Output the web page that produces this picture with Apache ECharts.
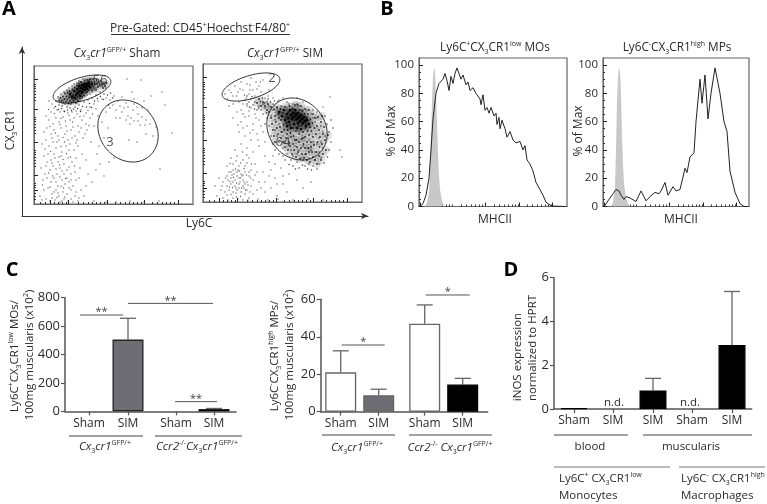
<!DOCTYPE html>
<html><head><meta charset="utf-8">
<style>html,body{margin:0;padding:0;background:#fff}#c{width:767px;height:504px}</style>
<script src="https://cdn.jsdelivr.net/npm/echarts@6/dist/echarts.min.js"></script>
</head><body><div id="c"></div>
<script>
// ---------- Panel A: flow cytometry events (Ly6C channel, CX3CR1 channel) ----------
const shamCore=[[36,110],[38,107],[40,113],[42,109],[43,115],[44,111],[45,118],[46,113],[47,116],[48,112],[48,119],[49,115],[50,118],[51,114],[51,120],[52,117],[53,115],[53,120],[54,118],[55,121],[56,117],[41,106],[46,108],[58,120]];
const shamDense=[[25,103.5],[26.5,106],[27.5,103],[29,107.5],[29.5,101.5],[30.5,105],[31,110.5],[32,102.5],[32.5,107.5],[33.5,104.5],[33.5,111.5],[34.5,100.5],[35,106.5],[35.5,113],[36,103],[36.5,108.5],[37,111],[37.5,101.5],[38,105.5],[38.5,114.5],[39,109],[39.5,103.5],[40,107],[40.5,116.5],[41,112],[41.5,101.5],[42,105],[42.5,110],[43,114],[43,118.5],[43.5,107],[44,103],[44.5,112],[45,116],[45,120.5],[45.5,109],[46,105.5],[46.5,113],[47,118],[47,122],[47.5,110.5],[48,107.5],[48.5,114],[49,120],[49,111],[49.5,116.5],[50,108.5],[50.5,123.5],[51,114],[51.5,119],[52,111],[52.5,116],[53,121],[53.5,124],[53.5,112],[54,118],[55,114],[55,122.5],[55.5,119],[56,125],[57,116],[57.5,122],[58,113.5],[59,118],[59,125],[60,116],[60.5,122],[61,119.5],[62,114],[62.5,124],[63,120],[64,117],[65,121.5],[66,118.5],[67,123],[68,120],[69,116],[70,120],[71,118],[72.5,121]];
const shamHalo=[[22,103],[24,107],[26,102],[27,110],[29,104],[30,112],[31,100],[33,114],[34,101],[35,116],[37,100],[38,118],[39,102],[40,120],[42,101],[43,121],[44,104],[45,123],[46,103],[47,122],[48,106],[49,125],[51,108],[52,125],[53,109],[55,124],[56,110],[57,125],[58,112],[60,114],[60,124],[62,116],[63,122],[64,118],[66,120],[68,118],[70,122],[72,116],[25,99],[28,98],[33,97],[36,96],[41,97],[45,99],[50,102],[54,104],[58,106],[62,109],[66,112],[70,110],[21.5,97.5],[24.5,94.5],[27.5,95.5],[30.5,92.5],[33.5,94],[37.5,93.5],[39.5,95],[43.5,95.5],[46.5,92.5],[48.5,97.5],[52.5,97],[55.5,100.5],[57.5,96.5],[60.5,103],[63.5,105.5],[66.5,107.5],[69.5,104.5],[73.5,109],[76.5,111],[78.5,106],[74.5,99]];
const shamSparse=[[15,103],[18,100],[20,96],[17,92],[23,94],[26,92],[30,93],[34,91],[38,92],[43,90],[47,94],[52,91],[56,97],[60,100],[64,103],[68,105],[72,106],[76,104],[80,108],[84,103],[88,107],[92,101],[76,96],[82,94],[88,92],[94,88],[99,94],[104,90],[108,87],[112,84],[100,83],[96,80],[106,79],[92,84],[86,86],[116,80],[122,77],[131,99],[138,71],[128,112],[107,124],[117,108],[93,125],[98,112],[110,103],[12,88],[15,84],[19,80],[22,86],[25,82],[29,87],[32,78],[36,84],[40,86],[44,78],[48,84],[52,80],[56,86],[60,78],[64,88],[68,82],[72,92],[74,76],[10,72],[13,76],[17,70],[20,74],[24,68],[27,76],[31,70],[34,64],[37,74],[41,68],[45,72],[49,66],[53,74],[57,62],[8,60],[12,64],[15,58],[19,62],[22,56],[25,64],[28,52],[32,58],[36,60],[40,54],[44,58],[48,50],[52,44],[63,50],[66,40],[70,66],[10,48],[14,50],[17,44],[21,46],[24,42],[27,48],[30,40],[34,46],[38,42],[42,46],[46,36],[7,36],[12,38],[16,34],[19,38],[23,30],[26,36],[30,30],[33,34],[37,30],[41,32],[45,26],[54,30],[58,22],[62,34],[9,24],[13,26],[17,22],[20,26],[24,18],[28,24],[31,20],[35,22],[39,18],[42,24],[47,14],[52,18],[10,14],[14,16],[18,10],[22,14],[25,8],[29,12],[33,10],[37,14],[41,8],[45,6],[50,8],[6,8],[12,5],[16,3],[21,4],[26,2],[30,5],[34,3],[39,2],[44,3],[60,3],[72,2],[82,2],[96,3],[110,2],[125,3],[70,28],[75,42],[80,46],[65,58],[95,64],[103,62],[112,70],[119,68],[126,35],[108,96],[114,94],[100,100],[90,96],[14.5,94.5],[20.5,90.5],[27,85.5],[31.5,83],[35,88.5],[38.5,82],[42,93],[46,87.5],[50,88],[54,93.5],[58.5,90],[62,95],[16,77.5],[21.5,71],[26,79.5],[29,66.5],[33,73],[39,77],[43,64],[47,76],[51,70],[55,78.5],[18,66],[23,62],[27,57.5],[30.5,62],[35,54],[38,66],[42,61],[11,55],[16.5,52.5],[20,50],[25,47],[29,44.5],[32.5,50.5],[36.5,47],[40.5,38],[13,42],[18,41],[22,35],[25.5,39],[28,33],[31.5,25.5],[35,37],[14.5,31],[11,30],[18.5,28],[22,22],[26,27],[29.5,16],[33,26],[37,24],[16,17],[20,12],[24,11],[27,17.5],[31,7],[35,16],[8.5,19],[8,4],[18,6],[23,6.5],[28,3],[37,5],[42,12],[100,105],[103,97],[94,97],[97,86],[86,98],[82,86],[79,99],[104,83],[111,79]];
const simCore=[[76,90],[79,86],[81,92],[82,82],[84,88],[85,84],[86,80],[87,92],[88,87],[89,83],[90,89],[91,85],[91,78],[92,92],[93,87],[94,83],[95,89],[95,79],[96,85],[97,81],[98,87],[99,83],[100,79],[101,85],[102,81],[103,76],[104,82],[106,78],[84,76],[88,74],[94,74],[98,73]];
const simDense=[[71,92.5],[74,95],[75.5,88],[77.5,93],[78,82],[80,89],[80.5,77],[82,95],[83,85],[83.5,79],[84.5,72],[85.5,90],[86.5,96],[87,77],[87.5,69],[88.5,84],[89.5,93],[90,74],[90.5,66],[91.5,82],[92.5,89],[93,71],[93.5,62],[94.5,97],[95.5,76],[96,68],[96.5,92],[97.5,86],[98.5,63],[99,77],[99.5,91],[100,70],[100.5,58],[101.5,88],[102,65],[102.5,74],[103.5,84],[104,60],[104.5,71],[105,88],[105.5,54],[106,67],[107,75],[107.5,83],[108,60],[108.5,71],[109,50],[109.5,79],[110,65],[111,57],[111.5,74],[112,84],[113,68],[113.5,50],[114,76],[114.5,60],[116,72],[116.5,55],[117,65],[118,80],[119,58],[120,68],[121,75],[122,62],[123,52],[125,67],[72,86],[73,80],[74,74],[75,68],[76,84],[77,75],[78,64],[79,70],[80,60],[81,72],[82,55],[83,64],[84,68],[85,52],[86,60],[87,56],[88,65],[89,48],[90,58],[91,52],[92,62],[93,45],[94,55],[95,50],[96,60],[97,43],[98,54],[99,48],[100,64],[101,44],[102,54],[103,48],[104,42],[106,50],[107,40],[108,55],[110,45],[112,42],[114,38],[116,46],[118,42],[120,48],[68,84],[69,78],[66,90],[64,92],[62,96],[65,98],[68,95],[60,100],[58,96],[56,103],[54,99],[70,72],[71,66],[72,60],[110,88],[106,92],[102,93],[98,96],[92,97],[115,85],[119,86]];
const simHalo=[[60,98],[62,94],[64,100],[66,96],[68,86],[70,98],[72,82],[74,94],[76,78],[72,72],[74,66],[76,60],[78,70],[78,96],[80,66],[80,54],[82,60],[84,48],[84,100],[86,58],[86,98],[88,52],[90,46],[90,98],[92,56],[94,48],[94,98],[96,52],[96,96],[98,44],[98,92],[100,56],[100,92],[102,48],[104,54],[104,92],[106,44],[106,62],[108,52],[108,88],[110,60],[110,84],[112,50],[112,80],[114,58],[114,84],[116,50],[116,64],[118,76],[118,60],[120,70],[120,54],[122,66],[124,78],[126,70],[128,60],[128,82],[82,42],[88,42],[94,40],[100,42],[106,38],[112,42],[118,44],[70,58],[68,66],[72,52],[76,48],[80,46],[66,76],[64,84],[58,92],[56,96],[52,100],[48,103],[50,97],[46,100],[44,106],[42,102],[54,92],[60,88],[62,78],[110,92],[114,90],[122,86],[130,74],[126,52],[96,34],[102,36],[110,36],[116,38],[90,36],[55.5,94],[57.5,100.5],[59.5,104],[61.5,99],[63.5,89],[65,103],[67.5,100],[49,105.5],[46.5,95],[51.5,93],[44,98],[71.5,101],[75,100.5],[86,37.5],[92.5,33],[99.5,37],[104.5,33],[108.5,32],[114,33],[121,39],[124.5,45]];
const simSparse=[[22,108],[26,112],[30,106],[32,116],[35,110],[38,120],[40,112],[44,118],[46,108],[48,124],[50,112],[53,120],[56,116],[58,110],[60,122],[62,104],[66,112],[36,100],[40,98],[44,96],[48,94],[30,98],[26,96],[52,88],[46,86],[40,88],[34,90],[56,82],[50,78],[44,76],[38,80],[30,84],[60,70],[54,68],[48,62],[42,66],[36,70],[62,60],[56,56],[50,50],[44,54],[38,58],[62,46],[66,40],[72,38],[78,34],[60,30],[66,26],[72,24],[80,26],[86,28],[94,22],[100,14],[108,20],[68,14],[62,10],[74,6],[84,10],[28,44],[34,46],[40,42],[46,44],[52,38],[24,36],[30,38],[36,36],[42,36],[48,32],[54,30],[26,30],[30,32],[34,30],[38,28],[42,30],[46,26],[50,22],[56,20],[24,26],[28,24],[32,22],[36,24],[40,22],[44,20],[48,16],[54,12],[20,20],[24,16],[28,18],[32,16],[36,18],[40,16],[44,12],[50,8],[16,24],[12,16],[18,12],[22,10],[26,12],[30,10],[34,12],[38,10],[42,8],[46,4],[14,6],[20,4],[25,2],[30,4],[35,3],[40,2],[45,2],[55,3],[65,2],[75,3],[90,2],[105,3],[120,2],[34,26],[37,20],[31,28],[39,26],[33,14],[41,14],[28,30],[35,32],[36,14],[30,20],[42,18],[25,22],[46,30],[137,52],[139,45],[120,95],[127,105],[70,104],[76,102],[80,104],[65,106],[70,92],[94,104],[100,100],[52,106],[47,112],[24.5,103],[28,109.5],[33.5,106],[37,113],[41.5,107],[43.5,104],[47,117],[51,104],[54,113],[57.5,120],[38,92],[42,85],[46,91],[53,84],[50,72],[47,69],[40,74],[35,77],[55,62],[58,76],[44,47],[39.5,50],[32,52],[27,38.5],[33,41],[37.5,39],[41,33.5],[44,39],[48.5,38],[29,27],[32.5,33],[36.5,31],[40,27],[43.5,27],[47.5,24],[52,27],[27,20.5],[30.5,24.5],[33.5,19],[37.5,24],[41,20],[45,17],[26.5,15],[29.5,14.5],[33,9],[38.5,14],[42.5,12],[47,10],[22.5,24],[19,16],[24,7],[28,7.5],[33.5,5],[37.5,5.5],[62,20],[58,14],[68,32],[74,18],[70,46],[80,18]];
const gates=[[48,115,30,11.5,17],[94,73,33,28,-50]];
const gateLabelsA=[["56",66,124],["3",76,62]];
const gateLabelsB=[["2",69,124],["64",80,60]];
// ---------- Panel B: histograms (MHCII channel, % of Max) ----------
const isoA=[[6,0],[8,3],[10,10],[11,25],[12,50],[13,75],[14,92],[15,98],[16,96],[17,80],[18,60],[19,38],[20,22],[21,12],[23,4],[25,1],[27,0]];
const moA=[[1,0],[4,2],[7,8],[10,20],[12,40],[14,62],[15,68],[17,80],[20,87],[22,86],[24,90],[26,94],[28,89],[30,82],[32,92],[34,87],[36,94],[38,98],[40,99],[42,90],[44,93],[47,86],[49,88],[51,82],[54,84],[57,80],[61,76],[62,72],[64,79],[66,68],[68,70],[70,66],[72,70],[75,64],[77,66],[78,58],[80,63],[81,55],[83,61],[86,55],[88,49],[91,53],[94,47],[97,45],[101,46],[104,40],[106,43],[108,33],[111,30],[114,25],[117,17],[121,12],[124,8],[127,3],[131,1],[134,0.3],[147,0]];
const isoB=[[8,0],[10,3],[12,14],[13,40],[14,75],[15,92],[16,98],[17,96],[18,80],[19,50],[20,30],[21,16],[23,6],[25,2],[28,0]];
const mpB=[[1,0],[7,6],[10,9],[13,12],[16,11],[18,8],[21,5],[23,7],[27,6],[33,3.5],[38,11],[43,4],[47,7],[52,10],[56,9],[58,11],[62,17],[65,8],[70,14],[73,11],[77,12],[82,27],[84,24],[87,35],[91,38],[93,60],[97,90],[99,73],[102,93],[105,62],[108,80],[112,98],[114,99],[117,80],[121,60],[124,53],[127,25],[132,10],[137,2],[141,0],[145,0]];
// ---------- Panels C and D: bars ----------
const c1Labels=["Sham","SIM","Sham","SIM"];
const c1Means=[0,505,0,15];
const c1Upper=[0,655,0,20];
const c2Labels=["Sham","SIM","Sham","SIM"];
const c2Means=[21,8.8,47,14.5];
const c2Upper=[32.5,12,57,17.8];
const dLabels=["Sham","SIM","SIM","Sham","SIM"];
const dMeans=[0.04,0,0.85,0,2.93];
const dUpper=[0.04,0,1.4,0,5.37];
// slots on the bar panels' x scale
const c1Slots=[24,63,111,149];
const c2Slots=[20,58,104,142];
const dSlots=[20,59,99,138,178];
const c1Sig=[[15,58,678,2],[63,148,760,2],[110,152,68,2]];
const c2Sig=[[21,64,35.6,1],[105,149,62.3,1]];

const FONT='"Open Sans","Noto Sans",sans-serif', INK='#2a2a2a', AX='#555';
function rich(size,it){const b={fontFamily:FONT,fontStyle:it?'italic':'normal',fill:INK};
  return {sup:{...b,fontSize:Math.round(size*0.62),verticalAlign:'top'},sub:{...b,fontSize:Math.round(size*0.62),verticalAlign:'bottom'},n:{...b,fontSize:size,lineHeight:size+3},i:{...b,fontStyle:'italic',fontSize:size,lineHeight:size+3}};}
function T(text,x,y,size,o){o=o||{};return {type:'text',x,y,rotation:o.rot||0,silent:true,style:{text,fontFamily:FONT,fontSize:size,fontWeight:o.bold?'bold':'normal',fontStyle:o.it?'italic':'normal',fill:o.fill||INK,align:o.align||'center',verticalAlign:'middle',rich:rich(size,o.it)}};}
function L(x1,y1,x2,y2,c,w){return {type:'line',silent:true,shape:{x1,y1,x2,y2},style:{stroke:c||'#444',lineWidth:w||1}};}
const R=Math.PI/2;
const graphics=[
 T('A',9,9,20,{bold:true,fill:'#000'}),T('B',387,9,20,{bold:true,fill:'#000'}),T('C',12,270,20,{bold:true,fill:'#000'}),T('D',511,270,20,{bold:true,fill:'#000'}),
 T('{n|Pre-Gated: CD45}{sup|+}{n|Hoechst}{sup|-}{n|F4/80}{sup|+}',200,29,12),L(111,34.5,290,34.5,'#333',1),
 T('{i|Cx}{sub|3}{i|cr1}{sup|GFP/+}{n| Sham}',117,54,11.8),T('{i|Cx}{sub|3}{i|cr1}{sup|GFP/+}{n| SIM}',285,54,11.8),
 T('{n|CX}{sub|3}{n|CR1}',11,130,12,{rot:R}),T('Ly6C',199,224,12),
 T('{n|Ly6C}{sup|+}{n|CX}{sub|3}{n|CR1}{sup|low}{n| MOs}',495,48,11.8),T('{n|Ly6C}{sup|-}{n|CX}{sub|3}{n|CR1}{sup|high}{n| MPs}',677,48,11.8),
 T('MHCII',495,220,12),T('MHCII',681,220,12),T('% of Max',392,131,12,{rot:R}),T('% of Max',579,131,12,{rot:R}),
 T('{n|Ly6C}{sup|+}{n|CX}{sub|3}{n|CR1}{sup|low}{n| MOs/}',15,356,11.5,{rot:R}),T('{n|100mg muscularis (x10}{sup|2}{n|)}',30,355,11.5,{rot:R}),
 L(69,436,143,436),L(155,436,242,436),T('{i|Cx}{sub|3}{i|cr1}{sup|GFP/+}',105,447,11.5),T('{i|Ccr2}{sup|-/-}{i|Cx}{sub|3}{i|cr1}{sup|GFP/+}',197,447,11.5),
 T('{n|Ly6C}{sup|-}{n|CX}{sub|3}{n|CR1}{sup|high}{n| MPs/}',275,356,11.5,{rot:R}),T('{n|100mg muscularis (x10}{sup|2}{n|)}',290,355,11.5,{rot:R}),
 L(322,435,395,435),L(409,435,492,435),T('{i|Cx}{sub|3}{i|cr1}{sup|GFP/+}',357,448,11.5),T('{i|Ccr2}{sup|-/-}{i| Cx}{sub|3}{i|cr1}{sup|GFP/+}',450,448,11.5),
 T('iNOS expression',518,357,11.5,{rot:R}),T('normalized to HPRT',533,348,11.5,{rot:R}),
 T('n.d.',614,403,11.5),T('n.d.',690,403,11.5),
 L(554,435,628,435),L(643,435,752,435),T('blood',590,447,11.5),T('muscularis',691,447,11.5),
 L(554,467,670,467,'#777'),L(679,467,765,467,'#777'),
 T('{n|Ly6C}{sup|+}{n| CX}{sub|3}{n|CR1}{sup|low}',559,479,11.5,{align:'left'}),T('Monocytes',559,496,11.5,{align:'left'}),
 T('{n|Ly6C}{sup|-}{n| CX}{sub|3}{n|CR1}{sup|high}',681,479,11.5,{align:'left'}),T('Macrophages',681,496,11.5,{align:'left'})
];

// --- axes builders ---
const grids=[],xAxes=[],yAxes=[],series=[];
function addGrid(l,t,w,h,box){grids.push({left:l,top:t,width:w,height:h,show:!!box,borderColor:'#666',borderWidth:box?1.2:0,backgroundColor:'transparent',containLabel:false});return grids.length-1;}
function blankAxis(g,min,max,extra){return Object.assign({type:'value',gridIndex:g,min,max,splitLine:{show:false},axisLine:{show:false},axisTick:{show:false},axisLabel:{show:false}},extra||{});}
const frameLine={show:true,onZero:false,lineStyle:{color:'#666',width:1}};
function flowAxes(g,xMaj,xMin,yMaj,yMin,xMax,yMax,yLabels){
  const xi=xAxes.length, yi=yAxes.length;
  xAxes.push(blankAxis(g,0,xMax,{position:'bottom',axisLine:frameLine,axisTick:{show:true,inside:true,length:2,customValues:xMin,lineStyle:{color:'#333',width:1}}}));
  xAxes.push(blankAxis(g,0,xMax,{position:'bottom',axisLine:frameLine,axisTick:{show:true,inside:true,length:4,customValues:xMaj,lineStyle:{color:'#222',width:1}}}));
  yAxes.push(blankAxis(g,0,yMax,{position:'left',axisLine:frameLine,axisTick:{show:true,inside:true,length:2,customValues:yMin,lineStyle:{color:'#333',width:1}}}));
  yAxes.push(blankAxis(g,0,yMax,{position:'left',axisLine:frameLine,axisTick:{show:true,inside:true,length:4,customValues:yMaj,lineStyle:{color:'#222',width:1}},
    axisLabel:yLabels?{show:true,customValues:yLabels,margin:5,fontFamily:FONT,fontSize:11.5,color:INK}:{show:false}}));
  return [xi,yi];
}
function decades(starts,pat){const o=[];starts.forEach(s=>pat.forEach(p=>o.push(s+p)));return o;}
const pat=[5,8,11,14,17,19,21];
function scatter(x,y,data,size,color,op){series.push({type:'scatter',xAxisIndex:x,yAxisIndex:y,data,symbolSize:size,silent:true,animation:false,large:false,itemStyle:{color,opacity:op,borderWidth:0}});}
function ellipseSeries(x,y,data){series.push({type:'custom',xAxisIndex:x,yAxisIndex:y,silent:true,animation:false,data,renderItem(p,api){
  const cx=api.value(0),cy=api.value(1),rx=api.value(2),ry=api.value(3),a=api.value(4)*Math.PI/180,pts=[];
  for(let i=0;i<72;i++){const t=i/72*2*Math.PI,ex=rx*Math.cos(t),ey=ry*Math.sin(t);pts.push(api.coord([cx+ex*Math.cos(a)-ey*Math.sin(a),cy+ex*Math.sin(a)+ey*Math.cos(a)]));}
  return {type:'polygon',shape:{points:pts},style:{fill:'none',stroke:'#333',lineWidth:1}};}});}
function labelSeries(x,y,data){series.push({type:'scatter',xAxisIndex:x,yAxisIndex:y,silent:true,animation:false,symbolSize:0,data:data.map(d=>({name:d[0],value:[d[1],d[2]]})),label:{show:true,position:'inside',formatter:'{b}',fontFamily:FONT,fontSize:13,color:INK}});}

// A left
const gA=addGrid(34,66,159,138,true);
let a=flowAxes(gA,[16,34,73,110,144],decades([2,40,77,114],[4,9,14,18,22,26,30]),[125,95,62,29,14],decades([0,33,66,99],pat),159,138);
scatter(a[0],a[1],shamDense,6,'#333',.16);scatter(a[0],a[1],shamSparse,1.3,'#333',.8);scatter(a[0],a[1],shamHalo,1.5,'#222',.9);scatter(a[0],a[1],shamCore,7,'#000',.22);scatter(a[0],a[1],shamDense,1.8,'#111',.9);scatter(a[0],a[1],shamCore,2.5,'#000',.9);
ellipseSeries(a[0],a[1],[gates[0],gates[1]]);labelSeries(a[0],a[1],gateLabelsA);
// A right
const gA2=addGrid(203,64,159,138,true);
a=flowAxes(gA2,[16,34,73,110,144],decades([2,40,77,114],[4,9,14,18,22,26,30]),[125,95,62,29,14],decades([0,33,66,99],pat),159,138);
scatter(a[0],a[1],simDense,8,'#333',.14);scatter(a[0],a[1],simSparse,1.3,'#333',.8);scatter(a[0],a[1],simHalo,1.5,'#222',.9);scatter(a[0],a[1],simCore,9,'#000',.25);scatter(a[0],a[1],simDense,1.8,'#111',.9);scatter(a[0],a[1],simCore,3,'#000',.9);
ellipseSeries(a[0],a[1],[gates[0],gates[1]]);labelSeries(a[0],a[1],gateLabelsB);
// arrow frame
const gF=addGrid(22,47,346,169,false);
const arrowLine={show:true,symbol:['none','arrow'],symbolSize:[5,7],lineStyle:{color:'#333',width:1}};
xAxes.push(blankAxis(gF,0,1,{axisLine:arrowLine}));yAxes.push(blankAxis(gF,0,1,{axisLine:arrowLine}));
// B
function hist(l,w,iso,curve){
  const g=addGrid(l,58,w,148.5,true);
  const r=flowAxes(g,[1,15,66,100,133],decades([4,37,70,103],[5,10,15,19,23,26,29]).filter(v=>v<w),[0,20,40,60,80,100],[5,10,15,25,30,35,45,50,55,65,70,75,85,90,95],w,105,[0,20,40,60,80,100]);
  series.push({type:'line',xAxisIndex:r[0],yAxisIndex:r[1],data:iso,symbol:'none',silent:true,animation:false,lineStyle:{width:0},areaStyle:{color:'#c8c8c8',opacity:1}});
  series.push({type:'line',xAxisIndex:r[0],yAxisIndex:r[1],data:curve,symbol:'none',silent:true,animation:false,lineStyle:{color:'#222',width:1}});
}
hist(419,148,isoA,moA);hist(603,146,isoB,mpB);
// bars
function bars(l,t,w,h,yMax,step,slots,labels,means,upper,colors,borders,bw,sig){
  const g=addGrid(l,t,w,h,false),xi=xAxes.length,yi=yAxes.length;
  xAxes.push({type:'value',gridIndex:g,min:0,max:w,splitLine:{show:false},axisLine:{show:true,lineStyle:{color:AX,width:1.5}},
    axisTick:{show:true,length:4,customValues:slots,lineStyle:{color:AX,width:1.2}},
    axisLabel:{show:true,customValues:slots,margin:6,formatter:v=>labels[slots.indexOf(v)],fontFamily:FONT,fontSize:12,color:INK,hideOverlap:false}});
  yAxes.push({type:'value',gridIndex:g,min:0,max:yMax,interval:step,splitLine:{show:false},axisLine:{show:true,lineStyle:{color:AX,width:1.5}},
    axisTick:{show:true,length:4,lineStyle:{color:AX,width:1.2}},axisLabel:{margin:5,fontFamily:FONT,fontSize:13,color:INK}});
  series.push({type:'custom',xAxisIndex:xi,yAxisIndex:yi,silent:true,animation:false,z:1,data:slots.map((s,i)=>[s,means[i],upper[i]]),renderItem(p,api){
    const m=api.coord([api.value(0),api.value(1)]),u=api.coord([api.value(0),api.value(2)]);
    if(api.value(2)<=api.value(1))return {type:'group',children:[]};
    const st={stroke:'#666',lineWidth:1.3};
    return {type:'group',children:[{type:'line',shape:{x1:m[0],y1:m[1],x2:u[0],y2:u[1]},style:st},{type:'line',shape:{x1:u[0]-8,y1:u[1],x2:u[0]+8,y2:u[1]},style:st}]};}});
  series.push({type:'bar',xAxisIndex:xi,yAxisIndex:yi,barWidth:bw,silent:true,animation:false,z:2,data:slots.map((s,i)=>({value:[s,means[i]],itemStyle:{color:colors[i],borderColor:borders[i],borderWidth:means[i]>0?1.3:0}}))});
  if(sig)series.push({type:'custom',xAxisIndex:xi,yAxisIndex:yi,silent:true,animation:false,z:3,data:sig,renderItem(p,api){
    const a=api.coord([api.value(0),api.value(2)]),b=api.coord([api.value(1),api.value(2)]);
    return {type:'group',children:[{type:'line',shape:{x1:a[0],y1:a[1],x2:b[0],y2:b[1]},style:{stroke:'#555',lineWidth:1}},
      {type:'text',style:{x:(a[0]+b[0])/2,y:a[1]-3,text:api.value(3)>1?'**':'*',align:'center',verticalAlign:'middle',fontFamily:FONT,fontSize:11,fill:'#444'}}]};}});
}
bars(65,297.7,171,113.6,800,200,c1Slots,c1Labels,c1Means,c1Upper,['#fff','#6d6d73','#fff','#000'],['#222','#222','#222','#000'],31,c1Sig);
bars(320.7,299.3,167,112.4,60,20,c2Slots,c2Labels,c2Means,c2Upper,['#fff','#6d6d73','#fff','#000'],['#666','#666','#666','#000'],31,c2Sig);
bars(554,277.7,197.7,131.3,6,2,dSlots,dLabels,dMeans,dUpper,['#000','#000','#000','#000','#000'],['#000','#000','#000','#000','#000'],27,null);

const chart=echarts.init(document.getElementById('c'),null,{renderer:'canvas',width:767,height:504});
chart.setOption({animation:false,backgroundColor:'#fff',grid:grids,xAxis:xAxes,yAxis:yAxes,series,graphic:{elements:graphics}});
</script></body></html>
